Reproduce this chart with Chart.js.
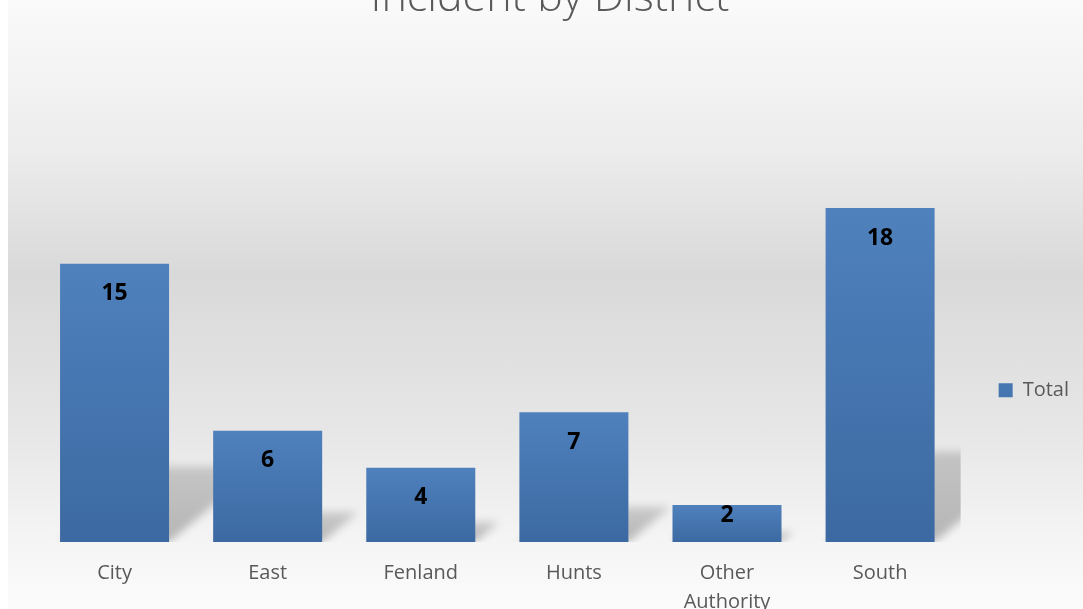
<!DOCTYPE html>
<html>
<head>
<meta charset="utf-8">
<script src="https://cdn.jsdelivr.net/npm/chart.js@4"></script>
<style>
  html, body { margin: 0; padding: 0; background: #fff; }
  #wrap {
    position: absolute; left: 0; top: 0; width: 1083px; height: 609px;
    background:
      linear-gradient(to right, #ffffff 0px, #ffffff 8px, transparent 8px),
      linear-gradient(to bottom, #fafafa 0%, #ececec 25%, #d9d9d9 45%, #e6e6e6 70%, #f7f7f7 92%, #fbfbfb 100%);
  }
</style>
</head>
<body>
<div id="wrap"><canvas id="chart" width="1083" height="609"></canvas></div>
<script>
// data
const districts = ["City", "East", "Fenland", "Hunts", ["Other", "Authority"], "South"];
const totals = [15, 6, 4, 7, 2, 18];
const seriesName = "Total";
const chartTitle = "Incident by District";

const FONT = "'Open Sans', 'Noto Sans', sans-serif";

/* bar fill: vertical gradient like the office style */
function barFill(ctx) {
    if (ctx.type !== "data") return "#4a7ab5";
    const chart = ctx.chart;
    if (!chart.chartArea) return "#4a7ab5";
    const y = chart.scales.y;
    const top = y.getPixelForValue(ctx.raw);
    const base = y.getPixelForValue(0);
    const g = chart.ctx.createLinearGradient(0, top, 0, base);
    g.addColorStop(0, "#4f81bd");
    g.addColorStop(1, "#3c69a1");
    return g;
}

/* title drawn by hand so it can sit half off the top */
const titlePlugin = {
    id: "cutTitle",
    afterDraw(chart) {
        const c = chart.ctx;
        c.save();
        c.font = "300 43px " + FONT;
        c.fillStyle = "#595959";
        c.textAlign = "center";
        c.textBaseline = "alphabetic";
        c.fillText(chartTitle, 550, 11);
        c.restore();
    }
};

/* perspective shadows behind bars */
const shadowPlugin = {
    id: "barShadows",
    beforeDatasetsDraw(chart) {
        const c = chart.ctx;
        const area = chart.chartArea;
        const meta = chart.getDatasetMeta(0);
        c.save();
        c.beginPath();
        c.rect(area.left, area.top, area.right - area.left + 4, area.bottom - area.top);
        c.clip();
        c.filter = "blur(4px)";
        meta.data.forEach(bar => {
            const h = bar.base - bar.y;
            const dy = h * 0.27;
            const dx = dy * 1.2;
            const xl = bar.x - bar.width / 2;
            const xr = bar.x + bar.width / 2;
            const g = c.createLinearGradient(0, bar.base, 0, bar.base - dy);
            g.addColorStop(0, "rgba(0,0,0,0.26)");
            g.addColorStop(1, "rgba(0,0,0,0.16)");
            c.fillStyle = g;
            c.beginPath();
            c.moveTo(xl, bar.base);
            c.lineTo(xr, bar.base);
            c.lineTo(xr + dx, bar.base - dy);
            c.lineTo(xl + dx, bar.base - dy);
            c.closePath();
            c.fill();
        });
        c.restore();
    }
};

/* value labels inside the bar tops */
const valuePlugin = {
    id: "valueLabels",
    afterDatasetsDraw(chart) {
        const c = chart.ctx;
        const meta = chart.getDatasetMeta(0);
        c.save();
        c.font = "bold 23px " + FONT;
        c.fillStyle = "#000";
        c.textAlign = "center";
        c.textBaseline = "middle";
        meta.data.forEach((bar, i) => {
            const h = bar.base - bar.y;
            const off = Math.min(30, h - 27);
            c.fillText(String(totals[i]), bar.x, bar.y + off);
        });
        c.restore();
    }
};

new Chart(document.getElementById("chart"), {
    type: "bar",
    data: {
        labels: districts,
        datasets: [{
            label: seriesName,
            data: totals,
            backgroundColor: barFill,
            borderWidth: 0,
            barPercentage: 0.712,
            categoryPercentage: 1
        }]
    },
    options: {
        responsive: false,
        animation: false,
        layout: { padding: { left: 38, right: 4, top: 171, bottom: -25 } },
        plugins: {
            title: { display: false },
            tooltip: { enabled: false },
            legend: {
                position: "right",
                fullSize: false,
                title: { display: true, text: " ", padding: { top: 29, bottom: 24 } },
                labels: {
                    boxWidth: 14,
                    boxHeight: 14,
                    padding: 42,
                    color: "#595959",
                    font: { family: FONT, size: 20 }
                }
            }
        },
        scales: {
            x: {
                grid: { display: false, drawTicks: false },
                border: { display: false },
                ticks: {
                    color: "#595959",
                    padding: 17,
                    maxRotation: 0,
                    font: { family: FONT, size: 20, lineHeight: 1.45 }
                }
            },
            y: {
                display: false,
                min: 0,
                max: 20
            }
        }
    },
    plugins: [shadowPlugin, valuePlugin, titlePlugin]
});
</script>
</body>
</html>
